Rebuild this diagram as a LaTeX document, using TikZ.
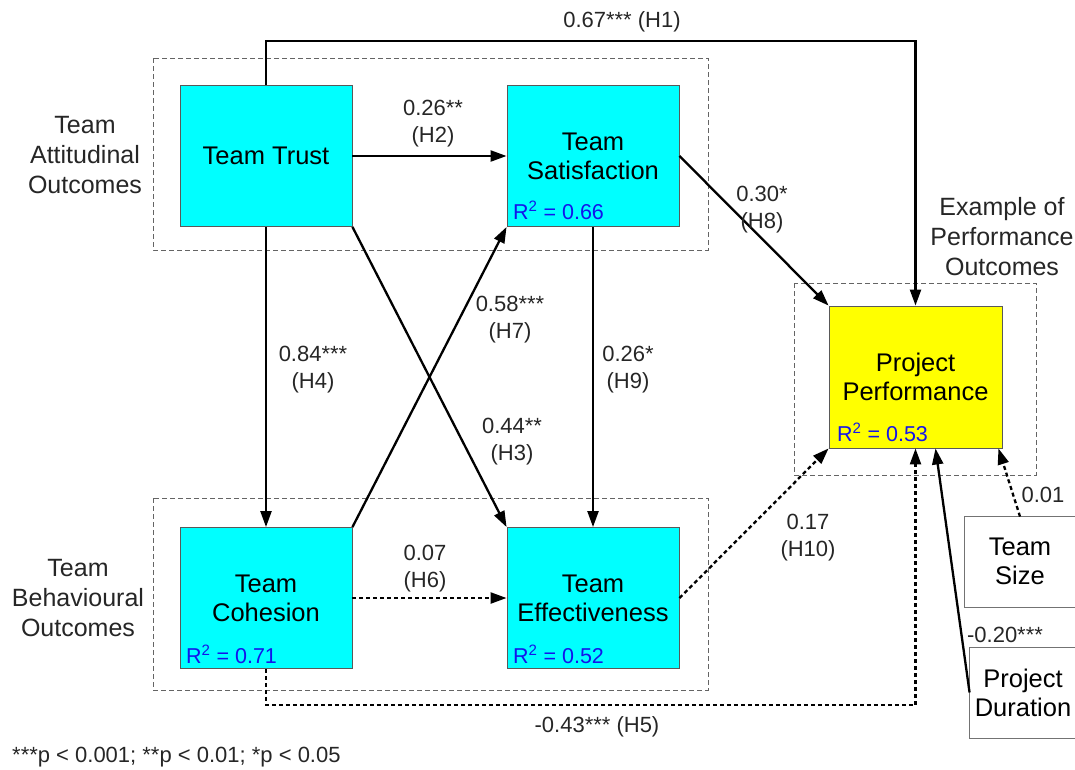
\documentclass[tikz,border=0pt]{standalone}
\usepackage{fontspec}
\setmainfont{Liberation Sans}
\usetikzlibrary{arrows.meta,calc}
\definecolor{boxcyan}{RGB}{0,255,255}
\definecolor{boxyellow}{RGB}{255,255,0}
\definecolor{rblue}{RGB}{20,20,235}
\definecolor{grp}{RGB}{100,100,100}
\begin{document}
\begin{tikzpicture}[x=1pt,y=-1pt,
  box/.style={draw=black!65,line width=0.9pt,fill=boxcyan,minimum width=172pt,minimum height=141pt,align=center,inner sep=0pt,font=\fontsize{25.5}{29}\selectfont},
  ppbox/.style={box,fill=boxyellow,minimum width=173pt,minimum height=142pt},
  wbox/.style={draw=black!55,line width=0.9pt,fill=white,align=center,inner sep=0pt,font=\fontsize{25.5}{29}\selectfont},
  rsq/.style={text=rblue,anchor=base west,inner sep=0pt,font=\fontsize{21.5}{24}\selectfont},
  lbl/.style={align=center,inner sep=0pt,font=\fontsize{22}{27}\selectfont,text=black!85},
  glbl/.style={align=center,inner sep=0pt,font=\fontsize{25}{30}\selectfont,text=black!85},
  grpbox/.style={draw=grp,line width=0.8pt,dash pattern=on 5pt off 3pt},
  arr/.style={draw=black,line width=2.3pt,-{Triangle[length=16pt,width=11pt]}},
  darr/.style={arr,dash pattern=on 4pt off 3pt},
]
\useasboundingbox (0,0) rectangle (1075,769);

% groups
\draw[grpbox] (153,58) rectangle (708,250);
\draw[grpbox] (153,498) rectangle (708,690);
\draw[grpbox] (794,283) rectangle (1036,475);

% nodes
\node[box] (trust) at (266,156) {Team Trust};
\node[box] (sat) at (593,156) {Team\\Satisfaction};
\node[box] (coh) at (266,598) {Team\\Cohesion};
\node[box] (eff) at (593,598) {Team\\Effectiveness};
\node[ppbox] (perf) at (915.5,377) {Project\\Performance};
\node[wbox,minimum width=112pt,minimum height=91pt] (size) at (1020,561.5) {Team\\Size};
\node[wbox,minimum width=108pt,minimum height=91pt] (dur) at (1023,692.5) {Project\\Duration};

% R squared
\node[rsq] (r1) at (513,219) {R\textsuperscript{2} = 0.66};
\node[rsq] (r2) at (186,663) {R\textsuperscript{2} = 0.71};
\node[rsq] (r3) at (513,663) {R\textsuperscript{2} = 0.52};
\node[rsq] (r4) at (837,441) {R\textsuperscript{2} = 0.53};

% group labels
\node[glbl] (gA) at (85,155) {Team\\Attitudinal\\Outcomes};
\node[glbl] (gB) at (78,598) {Team\\Behavioural\\Outcomes};
\node[glbl] (gC) at (1002,237) {Example of\\Performance\\Outcomes};

% connectors
\coordinate (h1) at (0,41);
\coordinate (h5) at (0,705);
\draw[arr] (trust.north) -- (trust.north|-h1) -| (perf.north);
\draw[arr] (trust.east) -- (sat.west);
\draw[arr] (trust.south) -- (coh.north);
\draw[arr] (trust.south east) -- (eff.north west);
\draw[arr] (coh.north east) -- (sat.south west);
\draw[arr] (sat.south) -- (eff.north);
\draw[arr] (sat.east) -- (perf.north west);
\draw[darr] (coh.east) -- (eff.west);
\draw[darr] (eff.east) -- (perf.south west);
\draw[darr] (coh.south) -- (coh.south|-h5) -| (perf.south);
\draw[darr] ($(size.north)+(0,1)$) -- ($(perf.south east)+(-4,0)$);
\draw[arr] ($(dur.west)+(1,0)$) -- ($(perf.south)+(20,0)$);

% labels
\node[lbl] (l1) at (622,22) {0.67*** (H1)};
\node[lbl] (l2) at (433,124) {0.26**\\(H2)};
\node[lbl] (l4) at (313,370) {0.84***\\(H4)};
\node[lbl] (l3) at (512,442) {0.44**\\(H3)};
\node[lbl] (l7) at (510,320) {0.58***\\(H7)};
\node[lbl] (l9) at (628,370) {0.26*\\(H9)};
\node[lbl] (l8) at (762,210) {0.30*\\(H8)};
\node[lbl] (l6) at (425,569) {0.07\\(H6)};
\node[lbl] (l10) at (808,538) {0.17\\(H10)};
\node[lbl] (l5) at (597,727) {-0.43*** (H5)};
\node[lbl] (l11) at (1043,495) {0.01};
\node[lbl] (l12) at (1005,635) {-0.20***};
\node[lbl,anchor=west] (fn) at (12,757) {***p < 0.001; **p < 0.01; *p < 0.05};
\end{tikzpicture}
\end{document}
